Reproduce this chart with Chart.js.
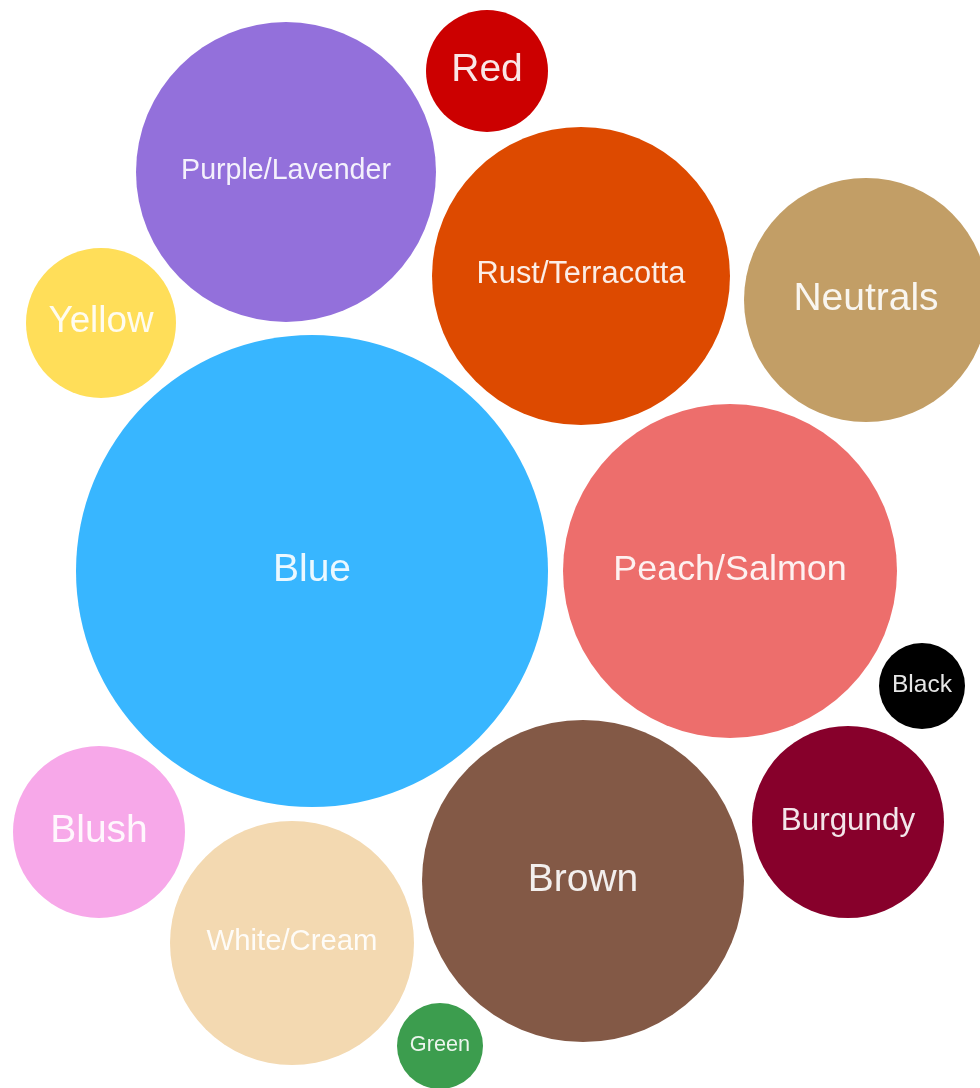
<!DOCTYPE html>
<html>
<head>
<meta charset="utf-8">
<title>Colour popularity</title>
<script src="https://cdn.jsdelivr.net/npm/chart.js@4.4.1/dist/chart.umd.min.js"></script>
<style>
  html, body { margin: 0; padding: 0; background: #ffffff; }
  #wrap { width: 980px; height: 1088px; position: relative; }
</style>
</head>
<body>
<div id="wrap"><canvas id="chart"></canvas></div>
<script>
// Colour categories and their bubbles (centre in layout units, radius in px)
const categories = ['Blue', 'Purple/Lavender', 'Red', 'Rust/Terracotta', 'Neutrals', 'Yellow',
  'Peach/Salmon', 'Black', 'Burgundy', 'Brown', 'Blush', 'White/Cream', 'Green'];
const xValues = [312, 286, 487, 581, 866, 101, 730, 922, 848, 583, 99, 292, 440];
const yValues = [571, 172, 71, 276, 300, 323, 571, 686, 822, 881, 832, 943, 1046];
const radii   = [236, 150, 61, 149, 122, 75, 167, 43, 96, 161, 86, 122, 43];
const colours = ['#38B6FF', '#9370DB', '#CC0000', '#DD4A00', '#C29E66', '#FFDE59',
  '#ED6E6C', '#000000', '#87002B', '#835946', '#F7A8E9', '#F3D9B1', '#3C9D4E'];

const points = categories.map((c, i) => ({ x: xValues[i], y: yValues[i], r: radii[i] }));

// Writes each category name inside its bubble, shrinking the text to fit
const bubbleLabels = {
  id: 'bubbleLabels',
  afterDatasetsDraw(chart) {
    const ctx = chart.ctx;
    const meta = chart.getDatasetMeta(0);
    ctx.save();
    ctx.textAlign = 'center';
    ctx.textBaseline = 'middle';
    ctx.fillStyle = 'rgba(255,255,255,0.9)';
    meta.data.forEach((el, i) => {
      const label = categories[i];
      const r = el.options.radius;
      let size = 39;
      ctx.font = size + 'px "Liberation Sans", Arial, sans-serif';
      const w = ctx.measureText(label).width;
      const maxW = 2 * r * 0.7;
      if (w > maxW) size = size * maxW / w;
      ctx.font = size.toFixed(1) + 'px "Liberation Sans", Arial, sans-serif';
      ctx.fillText(label, el.x, el.y - 1);
    });
    ctx.restore();
  }
};

new Chart(document.getElementById('chart'), {
  type: 'bubble',
  data: {
    datasets: [{
      data: points,
      backgroundColor: colours,
      borderWidth: 0,
      hoverBorderWidth: 0,
      hoverRadius: 0,
      clip: false
    }]
  },
  options: {
    responsive: true,
    maintainAspectRatio: false,
    animation: false,
    layout: { padding: 0, autoPadding: false },
    plugins: { legend: { display: false }, tooltip: { enabled: false } },
    events: [],
    scales: {
      x: { type: 'linear', min: 0, max: 980, display: false },
      y: { type: 'linear', min: 0, max: 1088, reverse: true, display: false }
    }
  },
  plugins: [bubbleLabels]
});
</script>
</body>
</html>
